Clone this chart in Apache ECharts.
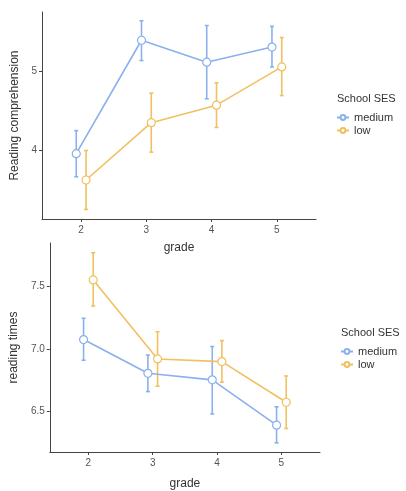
<!DOCTYPE html>
<html>
<head>
<meta charset="utf-8">
<script src="https://cdn.jsdelivr.net/npm/echarts@6/dist/echarts.min.js"></script>
<style>
html,body{margin:0;padding:0;background:#fff;}
#c{width:406px;height:491px;}
</style>
</head>
<body>
<div id="c"></div>
<script>
// ---- data ----
const grades = [2, 3, 4, 5];
const groups = ['medium', 'low'];

// Reading comprehension (top panel)
const rcMedium   = [3.96, 5.385, 5.11, 5.30];
const rcMediumLo = [3.67, 5.13, 4.65, 5.05];
const rcMediumHi = [4.25, 5.63, 5.57, 5.56];
const rcLow      = [3.63, 4.35, 4.57, 5.05];
const rcLowLo    = [3.26, 3.98, 4.29, 4.69];
const rcLowHi    = [4.00, 4.72, 4.85, 5.42];

// Reading times (bottom panel)
const rtMedium   = [7.073, 6.805, 6.753, 6.393];
const rtMediumLo = [6.909, 6.66, 6.482, 6.253];
const rtMediumHi = [7.242, 6.95, 7.018, 6.539];
const rtLow      = [7.547, 6.919, 6.898, 6.575];
const rtLowLo    = [7.339, 6.703, 6.734, 6.367];
const rtLowHi    = [7.763, 7.135, 7.065, 6.784];

const xTicks = [2, 3, 4, 5];
const rcTicks = [4, 5];
const rtTicks = [6.5, 7.0, 7.5];

// ---- styling ----
const dodge = 0.075;
const colMedium = '#8ab0ee';
const colLow = '#f1c060';
const FONT = 'Liberation Sans';

const chart = echarts.init(document.getElementById('c'));

function pts(vals, off) { return vals.map((v, i) => [grades[i] + off, v]); }
function bars(lo, hi, off) { return lo.map((l, i) => [grades[i] + off, l, hi[i]]); }

function errRender(color) {
  return function (params, api) {
    const x = api.value(0);
    const p1 = api.coord([x, api.value(1)]);
    const p2 = api.coord([x, api.value(2)]);
    const w = 2;
    const st = { stroke: color, lineWidth: 1.6 };
    return {
      type: 'group',
      children: [
        { type: 'line', shape: { x1: p1[0], y1: p1[1], x2: p2[0], y2: p2[1] }, style: st },
        { type: 'line', shape: { x1: p1[0] - w, y1: p1[1], x2: p1[0] + w, y2: p1[1] }, style: st },
        { type: 'line', shape: { x1: p2[0] - w, y1: p2[1], x2: p2[0] + w, y2: p2[1] }, style: st }
      ]
    };
  };
}

function xAxis(gi) {
  return {
    type: 'value', gridIndex: gi, min: 1.4, max: 5.6,
    name: 'grade', nameLocation: 'middle', nameGap: gi === 0 ? 23 : 26,
    nameTextStyle: { fontFamily: FONT, fontSize: 12, color: '#333' },
    axisLine: { lineStyle: { color: '#444', width: 1 } },
    axisTick: { show: true, length: 3, customValues: xTicks, lineStyle: { color: '#444' } },
    axisLabel: { customValues: xTicks, fontFamily: FONT, fontSize: 10, color: '#555', margin: 6 },
    splitLine: { show: false }
  };
}
function yAxis(gi, name, mn, mx, ticks, fmt, gap) {
  return {
    type: 'value', gridIndex: gi, min: mn, max: mx,
    name: name, nameLocation: 'middle', nameGap: gap,
    nameTextStyle: { fontFamily: FONT, fontSize: 12, color: '#333' },
    axisLine: { show: true, lineStyle: { color: '#444', width: 1 } },
    axisTick: { show: true, length: 3, customValues: ticks, lineStyle: { color: '#444' } },
    axisLabel: { customValues: ticks, formatter: fmt, fontFamily: FONT, fontSize: 10, color: '#555', margin: 5 },
    splitLine: { show: false }
  };
}

function lineSeries(name, data, color, gi) {
  return {
    type: 'line', name: name, xAxisIndex: gi, yAxisIndex: gi, data: data,
    symbol: 'circle', symbolSize: 8, showAllSymbol: true,
    lineStyle: { color: color, width: 1.6 },
    itemStyle: { color: '#fff', borderColor: color, borderWidth: 1.2 },
    z: 3, animation: false
  };
}
function errSeries(name, data, color, gi) {
  return {
    type: 'custom', name: name, xAxisIndex: gi, yAxisIndex: gi, data: data,
    renderItem: errRender(color), itemStyle: { color: color },
    encode: { x: 0, y: [1, 2] }, z: 2, animation: false
  };
}

const legendBase = {
  orient: 'vertical', itemWidth: 12, itemHeight: 6, itemGap: 2, padding: 0,
  textStyle: { fontFamily: FONT, fontSize: 11, color: '#333' },
  data: groups
};
const titleStyle = { fontFamily: FONT, fontSize: 11, fontWeight: 'normal', color: '#333' };

chart.setOption({
  animation: false,
  textStyle: { fontFamily: FONT },
  grid: [
    { left: 42, top: 12, width: 274, height: 207 },
    { left: 46, top: 243, width: 274, height: 212 }
  ],
  xAxis: [xAxis(0), xAxis(1)],
  yAxis: [
    yAxis(0, 'Reading comprehension', 3.14, 5.74, rcTicks, v => String(v), 16),
    yAxis(1, 'reading times', 6.18, 7.84, rtTicks, v => v.toFixed(1), 28)
  ],
  title: [
    { text: 'School SES', left: 337, top: 93, padding: 0, textStyle: titleStyle },
    { text: 'School SES', left: 341, top: 327, padding: 0, textStyle: titleStyle }
  ],
  legend: [
    Object.assign({}, legendBase, { left: 336, top: 112 }),
    Object.assign({}, legendBase, { left: 340, top: 346 })
  ],
  series: [
    lineSeries('medium', pts(rcMedium, -dodge), colMedium, 0),
    lineSeries('low', pts(rcLow, dodge), colLow, 0),
    errSeries('medium', bars(rcMediumLo, rcMediumHi, -dodge), colMedium, 0),
    errSeries('low', bars(rcLowLo, rcLowHi, dodge), colLow, 0),
    lineSeries('medium', pts(rtMedium, -dodge), colMedium, 1),
    lineSeries('low', pts(rtLow, dodge), colLow, 1),
    errSeries('medium', bars(rtMediumLo, rtMediumHi, -dodge), colMedium, 1),
    errSeries('low', bars(rtLowLo, rtLowHi, dodge), colLow, 1)
  ]
});
</script>
</body>
</html>
